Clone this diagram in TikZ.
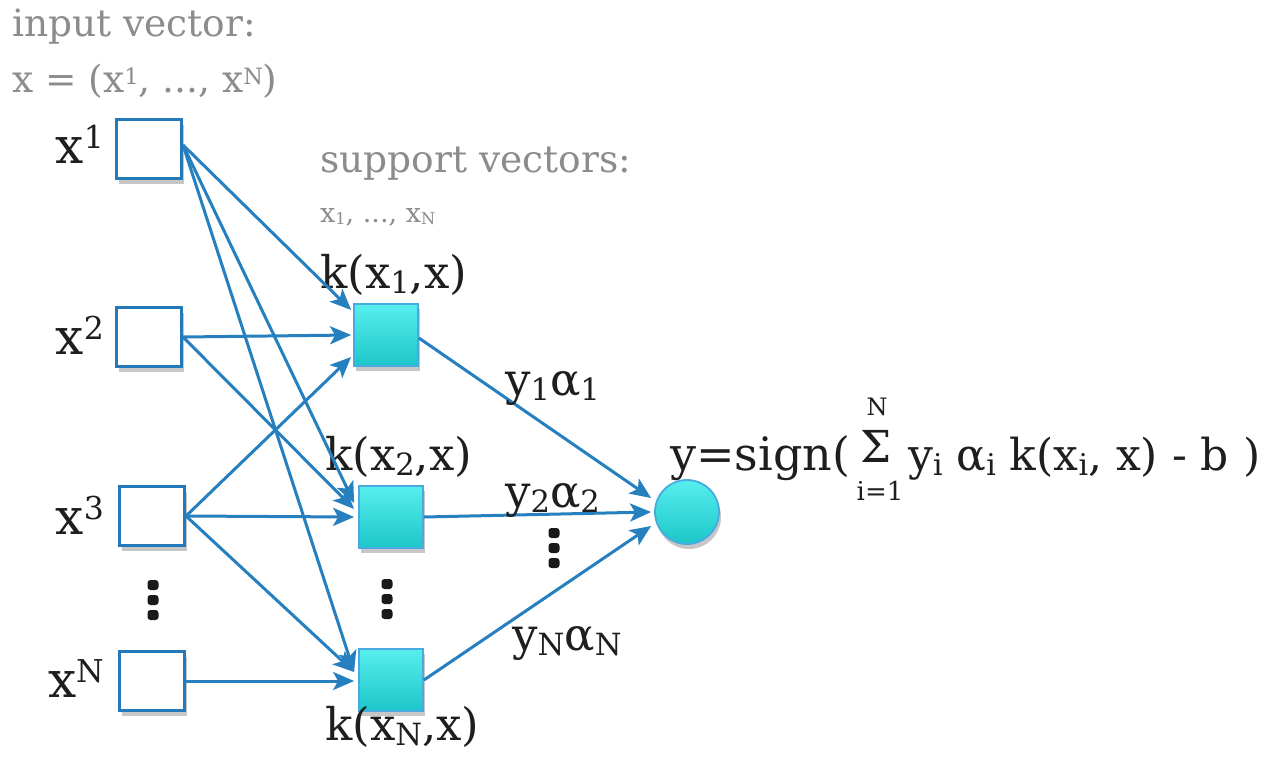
\documentclass[tikz,border=0pt]{standalone}
\usepackage{fontspec}
\setmainfont{DejaVu Serif}
\usetikzlibrary{arrows.meta,shadows,calc}
\definecolor{lineblue}{RGB}{38,128,192}
\definecolor{boxblue}{RGB}{36,122,184}
\definecolor{kborder}{RGB}{72,170,225}
\definecolor{cyantop}{RGB}{88,238,238}
\definecolor{cyanbot}{RGB}{28,198,200}
\definecolor{greytext}{RGB}{140,140,140}
\definecolor{inktext}{RGB}{30,30,30}
\newcommand\sbx[3]{\raisebox{#1}{\scalebox{#2}{#3}}}
\newcommand\lsub[1]{\sbx{-0.13em}{0.68}{#1}}
\newcommand\lsup[1]{\sbx{0.3em}{0.63}{#1}}
\newcommand\gsup[1]{\sbx{0.2em}{0.6}{#1}}
\newcommand\gsub[1]{\sbx{-0.08em}{0.6}{#1}}
\tikzset{
  shad/.style={drop shadow={shadow xshift=2pt, shadow yshift=-5pt, opacity=0.22, fill=black}},
  inbox/.style={draw=boxblue, line width=3pt, fill=white, minimum width=65pt, minimum height=59pt, inner sep=0pt, shad},
  kbox/.style={draw=kborder, line width=1.8pt, top color=cyantop, bottom color=cyanbot, minimum width=64pt, minimum height=62pt, inner sep=0pt, shad},
  outnode/.style={circle, draw=kborder, line width=1.8pt, top color=cyantop, bottom color=cyanbot, minimum size=64pt, inner sep=0pt, shad},
  conn/.style={draw=lineblue, line width=3pt, -{Stealth[length=21pt,width=18pt,inset=5pt]}},
  lbl/.style={font=\fontsize{45}{50}\selectfont, text=inktext, inner sep=0pt},
  flbl/.style={font=\fontsize{46}{50}\selectfont, text=inktext, inner sep=0pt},
  inlbl/.style={font=\fontsize{50}{54}\selectfont, text=inktext, inner sep=0pt, anchor=base east},
  greylbl/.style={font=\fontsize{37.5}{40}\selectfont, text=greytext, inner sep=0pt, anchor=base west},
  dotmark/.style={fill=black!90, rounded corners=3pt}
}
\newcommand\vdotsat[2]{%
  \foreach \dy in {-15,0,15} {\fill[dotmark] (#1-5.5,#2+\dy-5) rectangle (#1+5.5,#2+\dy+5);}}
\begin{document}
\begin{tikzpicture}[x=1pt,y=-1pt]
\useasboundingbox (0,0) rectangle (1278,756);
\fill[white] (0,0) rectangle (1278,756);

% grey captions
\node[greylbl] (cap1) at (12,36) {input vector:};
\node[greylbl] (cap2) at (12,92) {x = (x\gsup{1}, ..., x\gsup{N})};
\node[greylbl] (cap3) at (320,172) {support vectors:};
\node[greylbl, font=\fontsize{27}{30}\selectfont] (cap4) at (320,222) {x\gsub{1}, ..., x\gsub{N}};

% input nodes
\node[inbox] (in1) at (149,149) {};
\node[inbox] (in2) at (149,337) {};
\node[inbox] (in3) at (152,516) {};
\node[inbox] (inN) at (152,681) {};
\node[inlbl] (lx1) at (104,163) {x\lsup{1}};
\node[inlbl] (lx2) at (104,354) {x\lsup{2}};
\node[inlbl] (lx3) at (104,534) {x\lsup{3}};
\node[inlbl] (lxN) at (104,697) {x\lsup{N}};
\vdotsat{153}{600}

% kernel nodes
\node[kbox] (k1) at (386,335) {};
\node[kbox] (k2) at (391,517) {};
\node[kbox] (kN) at (391,680) {};
\node[lbl, anchor=base west] (lk1) at (320,288) {k(x\lsub{1},x)};
\node[lbl, anchor=base west] (lk2) at (325,470) {k(x\lsub{2},x)};
\node[lbl, anchor=base west] (lkN) at (325,740) {k(x\lsub{N},x)};
\vdotsat{387}{599}

% output node
\node[outnode] (out) at (687,512) {};

% connectors input -> kernel
\draw[conn] ([yshift=4pt]in1.east) -- ([xshift=-2pt,yshift=25pt]k1.west);
\draw[conn] ([yshift=4pt]in1.east) -- ([xshift=-4pt,yshift=14pt]k2.west);
\draw[conn] ([yshift=4pt]in1.east) -- ([xshift=-4pt,yshift=8pt]kN.west);
\draw[conn] (in2.east) -- ([xshift=-2pt]k1.west);
\draw[conn] (in2.east) -- ([xshift=-4pt,yshift=8pt]k2.west);
\draw[conn] (in3.east) -- ([xshift=-2pt,yshift=-22pt]k1.west);
\draw[conn] (in3.east) -- ([xshift=-4pt]k2.west);
\draw[conn] (in3.east) -- ([xshift=-4pt,yshift=8pt]kN.west);
\draw[conn] (inN.east) -- ([xshift=-4pt,yshift=-1pt]kN.west);

% connectors kernel -> output
\draw[conn] ([yshift=-3pt]k1.east) -- ([xshift=-3pt,yshift=14pt]out.west);
\draw[conn] (k2.east) -- ([xshift=-3pt]out.west);
\draw[conn] (kN.east) -- ([xshift=-3pt,yshift=-14pt]out.west);

% weight labels
\node[lbl, anchor=base west] (w1) at (505,395) {y\lsub{1}α\lsub{1}};
\node[lbl, anchor=base west] (w2) at (505,507) {y\lsub{2}α\lsub{2}};
\node[lbl, anchor=base west] (wN) at (512,650) {y\lsub{N}α\lsub{N}};
\vdotsat{554}{548}

% formula
\node[flbl, anchor=base west] (f1) at (670,470) {y=sign(};
\node[flbl, anchor=base, font=\fontsize{44}{48}\selectfont] (sig) at (876,462) {Σ};
\node[flbl, anchor=base, font=\fontsize{24}{26}\selectfont] (supN) at (877,415) {N};
\node[flbl, anchor=base, font=\fontsize{26}{28}\selectfont] (subi) at (880,500) {i=1};
\node[flbl, anchor=base west, font=\fontsize{44}{48}\selectfont] (f2) at (908,470) {y\lsub{i} α\lsub{i} k(x\lsub{i}, x) - b )};
\end{tikzpicture}
\end{document}
